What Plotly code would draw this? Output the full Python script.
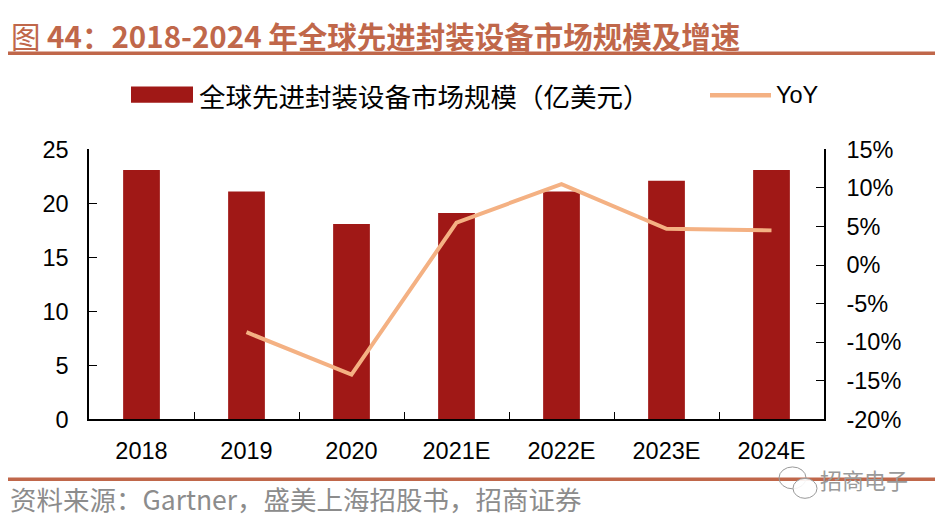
import plotly.graph_objects as go

# 全球先进封装设备市场规模（亿美元）及增速
years = ["2018", "2019", "2020", "2021E", "2022E", "2023E", "2024E"]
market_size = [23.1, 21.1, 18.1, 19.1, 21.1, 22.1, 23.1]
yoy_years = ["2019", "2020", "2021E", "2022E", "2023E", "2024E"]
yoy = [-0.087, -0.142, 0.055, 0.105, 0.047, 0.045]
yoy_ticks = [-0.20, -0.15, -0.10, -0.05, 0.0, 0.05, 0.10, 0.15]
yoy_tick_labels = ["-20%", "-15%", "-10%", "-5%", "0%", "5%", "10%", "15%"]

bar_color = "#A01816"
line_color = "#F4B183"
title_color = "#C0674A"
num_font = "Liberation Sans, Arial, sans-serif"
cjk_font = "Noto Sans CJK SC, sans-serif"

W, H = 943, 529
OFF = 8  # the page body adds an 8px margin, so pixel targets are shifted back by it


def px(x):
    return (x - OFF) / W


def py(y):
    return 1 - (y - OFF) / H


x0, x1 = 89, 824
y_top, y_bot = 143, 427

fig = go.Figure()
fig.add_trace(go.Bar(x=years, y=market_size, marker_color=bar_color,
                     marker_line_width=0, name="全球先进封装设备市场规模（亿美元）"))
fig.add_trace(go.Scatter(x=yoy_years, y=yoy, yaxis="y2", mode="lines",
                         line=dict(color=line_color, width=4), name="YoY"))

tick_font = dict(family=num_font, size=23.5, color="black")
fig.update_layout(
    width=W, height=H,
    margin=dict(l=0, r=0, t=0, b=0),
    paper_bgcolor="white", plot_bgcolor="white",
    showlegend=False,
    bargap=0.65,
    xaxis=dict(domain=[px(x0), px(x1)], type="category",
               showline=True, linecolor="black", linewidth=1.5,
               ticks="inside", tickson="boundaries", ticklen=8, tickcolor="black",
               tickfont=tick_font, ticklabelstandoff=10,
               showgrid=False, zeroline=False),
    yaxis=dict(domain=[py(y_bot), py(y_top)], range=[0, 25], dtick=5,
               showline=True, linecolor="black", linewidth=1.5,
               ticks="inside", ticklen=8, tickcolor="black",
               tickfont=tick_font, ticklabelstandoff=14,
               showgrid=False, zeroline=False),
    yaxis2=dict(overlaying="y", side="right", anchor="x", range=[-0.2, 0.15],
                tickvals=yoy_ticks, ticktext=yoy_tick_labels,
                showline=True, linecolor="black", linewidth=1.5,
                ticks="inside", ticklen=8, tickcolor="black",
                tickfont=tick_font, ticklabelstandoff=16,
                showgrid=False, zeroline=False),
)

shapes = [
    # title underline and footer line
    dict(type="line", xref="paper", yref="paper", x0=px(7), x1=px(936),
         y0=py(42), y1=py(42), line=dict(color=title_color, width=3.5)),
    dict(type="line", xref="paper", yref="paper", x0=px(7), x1=px(936),
         y0=py(490), y1=py(490), line=dict(color=title_color, width=3.5)),
    # legend symbols
    dict(type="rect", xref="paper", yref="paper", x0=px(131), x1=px(193),
         y0=py(94), y1=py(77), fillcolor=bar_color, line=dict(width=0)),
    dict(type="line", xref="paper", yref="paper", x0=px(710), x1=px(771),
         y0=py(86), y1=py(86), line=dict(color=line_color, width=4.5)),
    # watermark icon
    dict(type="circle", xref="paper", yref="paper", x0=px(779), x1=px(806),
         y0=py(500), y1=py(477), line=dict(color="#999999", width=1)),
    dict(type="circle", xref="paper", yref="paper", x0=px(793), x1=px(817),
         y0=py(510), y1=py(489), line=dict(color="#999999", width=1),
         fillcolor="rgba(255,255,255,0.9)"),
]

annotations = [
    dict(text="图 <b>44：2018-2024 年全球先进封装设备市场规模及增速</b>",
         x=px(9), y=py(23), xref="paper", yref="paper", xanchor="left", yanchor="middle",
         showarrow=False, font=dict(family=cjk_font, size=29.5, color=title_color)),
    dict(text="全球先进封装设备市场规模（亿美元）",
         x=px(197), y=py(86), xref="paper", yref="paper", xanchor="left", yanchor="middle",
         showarrow=False, font=dict(family=cjk_font, size=26.5, color="black")),
    dict(text="YoY",
         x=px(774), y=py(86), xref="paper", yref="paper", xanchor="left", yanchor="middle",
         showarrow=False, font=dict(family=num_font, size=23.5, color="black")),
    dict(text="资料来源：Gartner，盛美上海招股书，招商证券",
         x=px(8), y=py(510), xref="paper", yref="paper", xanchor="left", yanchor="middle",
         showarrow=False, font=dict(family=cjk_font, size=26.5, color="#8C8C8C")),
    dict(text="招商电子",
         x=px(818), y=py(490), xref="paper", yref="paper", xanchor="left", yanchor="middle",
         showarrow=False, font=dict(family=cjk_font, size=22, color="#9A9A9A")),
]

fig.update_layout(shapes=shapes, annotations=annotations)
fig.write_html("out.html")
